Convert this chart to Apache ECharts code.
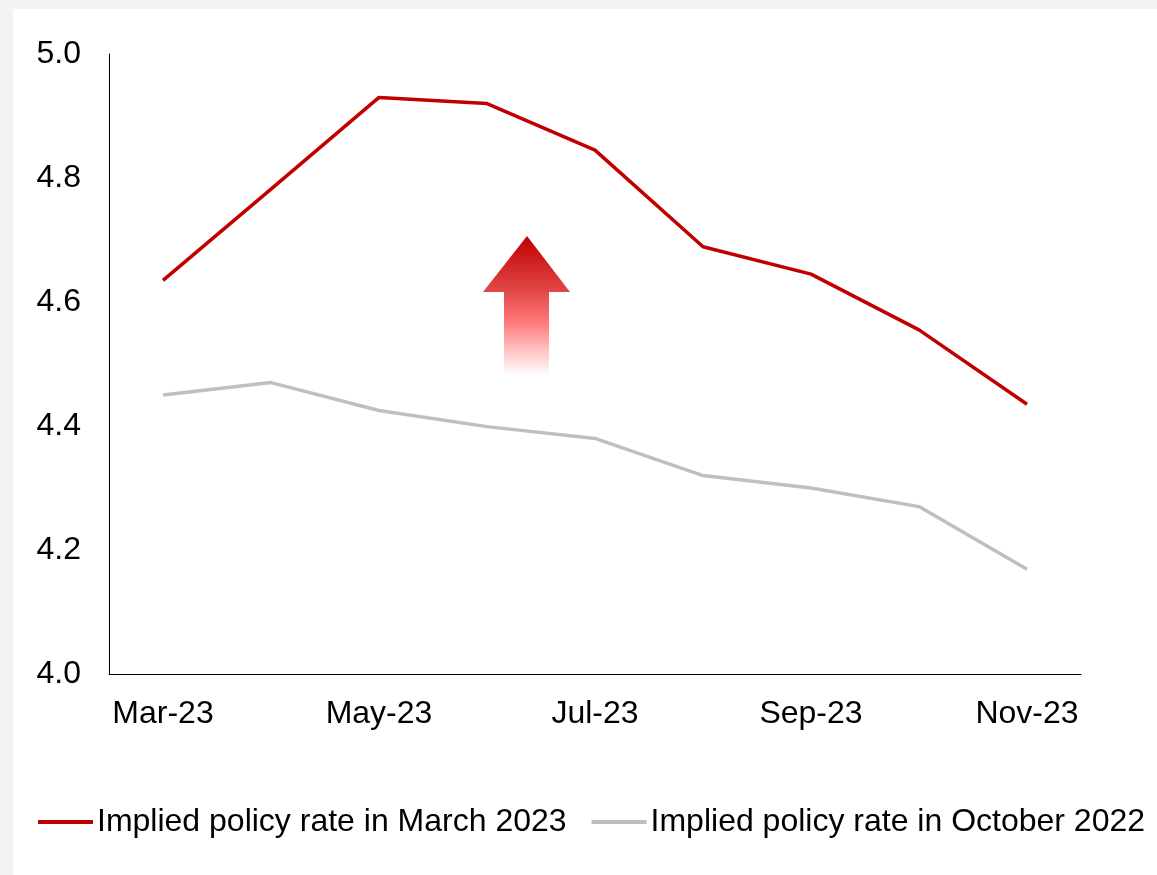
<!DOCTYPE html>
<html>
<head>
<meta charset="utf-8">
<title>Implied policy rate</title>
<script src="https://cdn.jsdelivr.net/npm/echarts@6/dist/echarts.min.js"></script>
<style>
  html, body { margin: 0; padding: 0; background: #f2f2f2; }
  #panel { position: absolute; left: 13px; top: 9px; width: 1144px; height: 866px; background: #ffffff; }
  #chart { position: absolute; left: 0; top: 0; width: 1157px; height: 875px; }
</style>
</head>
<body>
<div id="panel"></div>
<div id="chart"></div>
<script>
// Months on the horizontal axis
const months = ['Mar-23', 'Apr-23', 'May-23', 'Jun-23', 'Jul-23', 'Aug-23', 'Sep-23', 'Oct-23', 'Nov-23'];

// Market-implied policy rate paths (%)
const impliedMarch2023 = [4.635, 4.782, 4.930, 4.920, 4.845, 4.689, 4.645, 4.555, 4.435];
const impliedOctober2022 = [4.450, 4.470, 4.425, 4.399, 4.380, 4.320, 4.300, 4.270, 4.169];

const seriesNames = ['Implied policy rate in March 2023', 'Implied policy rate in October 2022'];

const FONT = '"Liberation Sans", Arial, sans-serif';

const chart = echarts.init(document.getElementById('chart'), null, { renderer: 'canvas' });

chart.setOption({
  backgroundColor: 'transparent',
  animation: false,
  textStyle: { fontFamily: FONT },
  grid: { left: 109, top: 54, right: 76, bottom: 201, containLabel: false },
  legend: {
    left: 38,
    top: 806,
    padding: 0,
    itemWidth: 55,
    itemHeight: 4,
    itemGap: 25,
    icon: 'rect',
    textStyle: { fontSize: 32, color: '#000000', fontFamily: FONT, padding: [0, 0, 0, -1] },
    data: seriesNames
  },
  xAxis: {
    type: 'category',
    data: months,
    boundaryGap: true,
    axisLine: { show: true, lineStyle: { color: '#000000', width: 1 } },
    axisTick: { show: false },
    splitLine: { show: false },
    axisLabel: { interval: 1, fontSize: 32, color: '#000000', margin: 24, fontFamily: FONT }
  },
  yAxis: {
    type: 'value',
    min: 4,
    max: 5,
    interval: 0.2,
    axisLine: { show: true, lineStyle: { color: '#000000', width: 1 } },
    axisTick: { show: false },
    splitLine: { show: false },
    axisLabel: {
      fontSize: 32, color: '#000000', margin: 28, fontFamily: FONT,
      padding: [3, 0, 0, 0],
      formatter: v => v.toFixed(1)
    }
  },
  series: [
    {
      name: seriesNames[0],
      type: 'line',
      data: impliedMarch2023,
      symbol: 'none',
      color: '#c00000',
      lineStyle: { color: '#c00000', width: 3.5 },
      z: 3
    },
    {
      name: seriesNames[1],
      type: 'line',
      data: impliedOctober2022,
      symbol: 'none',
      color: '#bfbfbf',
      lineStyle: { color: '#bfbfbf', width: 3.5 },
      z: 2
    }
  ],
  graphic: [
    {
      // upward arrow marking the shift between the two rate paths
      type: 'polygon',
      z: 1,
      shape: {
        points: [[527, 236], [570, 292], [549, 292], [549, 376], [504, 376], [504, 292], [483, 292]]
      },
      style: {
        fill: new echarts.graphic.LinearGradient(0, 0, 0, 1, [
          { offset: 0, color: '#c00000' },
          { offset: 0.4, color: '#e24848' },
          { offset: 0.62, color: '#ff7a7a' },
          { offset: 0.82, color: '#ffc4c4' },
          { offset: 1, color: '#ffffff' }
        ])
      }
    }
  ]
});
</script>
</body>
</html>
